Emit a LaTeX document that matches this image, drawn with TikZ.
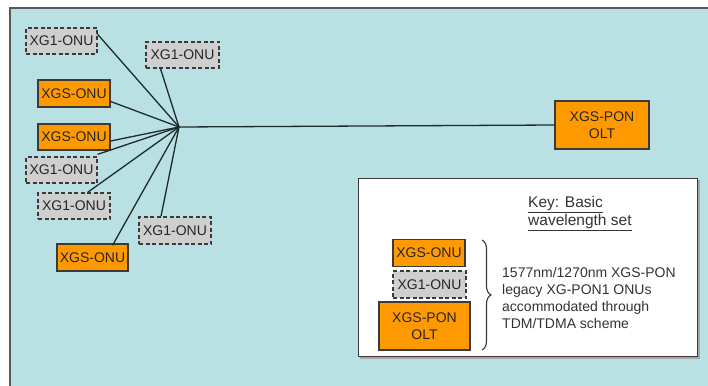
\documentclass[tikz,border=0pt]{standalone}
\usepackage{fontspec}
\setmainfont{Liberation Sans}
\usetikzlibrary{decorations.pathreplacing}
\definecolor{bgcyan}{HTML}{B9E0E3}
\definecolor{onuorange}{HTML}{FF9900}
\definecolor{legacygray}{HTML}{CFCFCF}
\definecolor{edgegray}{HTML}{3A3A3A}
\definecolor{wiregray}{HTML}{1F2B2B}
\tikzset{
  xgsbox/.style={draw=edgegray, line width=1.3pt, fill=onuorange, inner sep=0pt,
    font=\fontsize{14}{16.5}\selectfont, text=black!85, align=center},
  xgonebox/.style={draw=edgegray, line width=1.3pt, dash pattern=on 4pt off 2.5pt,
    fill=legacygray, inner sep=0pt, font=\fontsize{14}{16.5}\selectfont, text=black!85},
  wire/.style={draw=wiregray, line width=1.3pt},
}
\begin{document}
\begin{tikzpicture}[x=1pt,y=-1pt]
\useasboundingbox (0,0) rectangle (708,385);
\fill[white] (0,0) rectangle (708,385);
\draw[fill=bgcyan, draw=black!65, line width=2pt] (10,8) rectangle (730,400);

% nodes
\node[xgonebox, minimum width=71pt, minimum height=26pt] (g1) at (61.5,41) {XG1-ONU};
\node[xgonebox, minimum width=73pt, minimum height=26pt] (g2) at (182.5,55) {XG1-ONU};
\node[xgsbox, minimum width=72pt, minimum height=27pt] (s1) at (74,93.5) {XGS-ONU};
\node[xgsbox, minimum width=72pt, minimum height=26pt] (s2) at (74,137) {XGS-ONU};
\node[xgonebox, minimum width=71pt, minimum height=26pt] (g3) at (61.5,170) {XG1-ONU};
\node[xgonebox, minimum width=72pt, minimum height=26pt] (g4) at (74,206) {XG1-ONU};
\node[xgonebox, minimum width=72pt, minimum height=27pt] (g5) at (175,230.5) {XG1-ONU};
\node[xgsbox, minimum width=71pt, minimum height=27pt] (s3) at (92.5,257.5) {XGS-ONU};
\node[xgsbox, minimum width=94pt, minimum height=48pt] (olt) at (602,125) {XGS-PON\\OLT};

\coordinate (hub) at (179,127);

% connectors
\draw[wire] (hub) -- (olt.west);
\draw[wire] (hub) -- ([yshift=-7pt]g1.north east);
\draw[wire] (hub) -- ([xshift=-22pt]g2.south);
\draw[wire] (hub) -- ([yshift=-8pt]s1.east);
\draw[wire] (hub) -- ([yshift=-4pt]s2.east);
\draw[wire] (hub) -- ([yshift=2pt]g3.north east);
\draw[wire] (hub) -- ([xshift=-23pt]g4.north east);
\draw[wire] (hub) -- ([xshift=-14pt]g5.north);
\draw[wire] (hub) -- ([xshift=20pt,yshift=-2pt]s3.north);

% legend
\draw[black!35, line width=2pt] (361,181) rectangle (699,358);
\node[draw=edgegray, line width=1.3pt, fill=white, minimum width=339pt, minimum height=178pt, anchor=north west, inner sep=0pt] (legend) at (358,178) {};
\node[anchor=north west, inner sep=0pt, align=left, font=\fontsize{15.5}{18}\selectfont, text=black!80] (keytitle) at (528,196) {\underline{Key: Basic}\\\underline{wavelength set}};
\node[xgsbox, minimum width=72pt, minimum height=27pt] (k1) at (429,253) {XGS-ONU};
\node[xgonebox, minimum width=73pt, minimum height=27pt] (k2) at (429.5,284.5) {XG1-ONU};
\node[xgsbox, minimum width=91pt, minimum height=48pt] (k3) at (424.5,326) {XGS-PON\\OLT};
\coordinate (bracetop) at (482,240);
\coordinate (bracebot) at (482,350);
\draw[edgegray, line width=1.1pt, decorate, decoration={brace, amplitude=9pt}] (bracetop) -- (bracebot);
\node[anchor=west, inner sep=0pt, align=left, font=\fontsize{14}{17}\selectfont, text=black!80] (keytext) at (502,297.5)
  {1577nm/1270nm XGS-PON\\legacy XG-PON1 ONUs\\accommodated through\\TDM/TDMA scheme};
\end{tikzpicture}
\end{document}
